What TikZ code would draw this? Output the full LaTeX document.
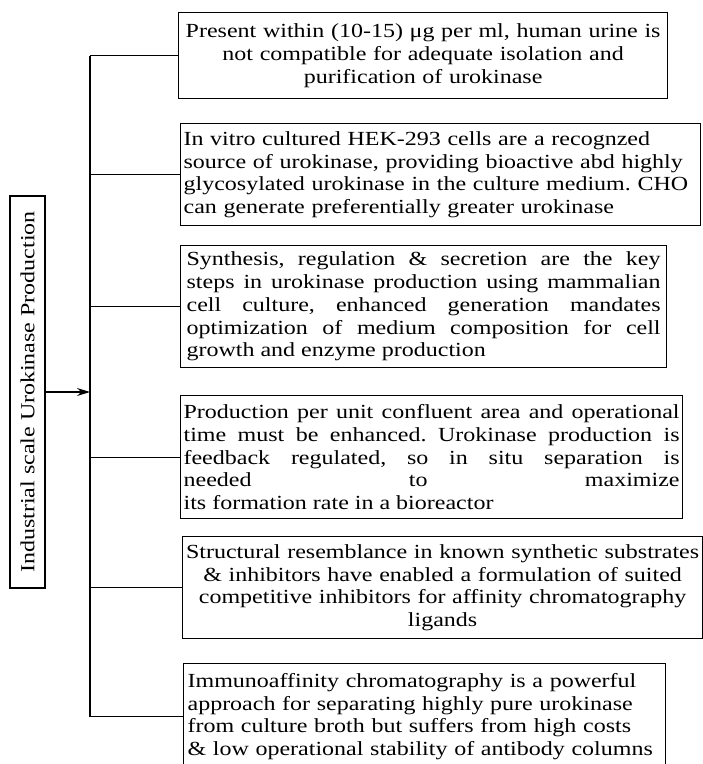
\documentclass[tikz,border=0pt]{standalone}
\usepackage{fontspec}
\setmainfont{Liberation Serif}[FakeStretch=1.2]
\frenchspacing
\usetikzlibrary{arrows.meta}
\tikzset{
  itembox/.style={draw, line width=1.2pt, anchor=north west, inner xsep=4pt, inner ysep=0pt,
    font=\fontsize{20}{22.7}\selectfont},
  titlebox/.style={draw, line width=1.2pt, rotate=90, minimum width=392pt, minimum height=35pt,
    inner sep=0pt, font=\fontsize{20}{22.7}\selectfont},
  branch/.style={line width=1.2pt},
}
\begin{document}
\begin{tikzpicture}[x=1pt, y=-1pt]
        \useasboundingbox (0,0) rectangle (703,764);

        % Title
        \node[titlebox] (title) at (27.5,392) {Industrial scale Urokinase Production};

        % Boxes
        \node[itembox, text width=481pt, align=center, minimum height=86pt] (b1) at (178,12)
            {Present within (10-15) μg per ml, human urine is\\ not compatible for adequate isolation and\\ purification of urokinase};
        \node[itembox, text width=514pt, align=left, minimum height=102pt, inner xsep=3pt] (b2) at (180,123)
            {In vitro cultured HEK-293 cells are a recognzed\\ source of urokinase, providing bioactive abd highly\\ glycosylated urokinase in the culture medium. CHO\\ can generate preferentially greater urokinase};
        \node[itembox, text width=474pt, align=justify, minimum height=122pt, inner xsep=6pt] (b3) at (180,245)
            {Synthesis, regulation \& secretion are the key\linebreak steps in urokinase production using mammalian\linebreak cell culture, enhanced generation mandates\linebreak optimization of medium composition for cell\linebreak growth and enzyme production};
        \node[itembox, text width=496pt, align=justify, minimum height=123pt, inner xsep=3pt] (b4) at (180,395)
            {Production per unit confluent area and operational\linebreak time must be enhanced. Urokinase production is\linebreak feedback regulated, so in situ separation is\linebreak needed to maximize\linebreak its formation rate in a bioreactor};
        \node[itembox, text width=519pt, align=center, minimum height=102pt, inner xsep=0.5pt] (b5) at (182,536)
            {Structural resemblance in known synthetic substrates\\ \& inhibitors have enabled a formulation of suited\\ competitive inhibitors for affinity chromatography\\ ligands};
        \node[itembox, text width=474pt, align=left, minimum height=106pt] (b6) at (183,663)
            {Immunoaffinity chromatography is a powerful\\ approach for separating highly pure urokinase\\ from culture broth but suffers from high costs\\ \& low operational stability of antibody columns};

        % Tree
        \coordinate (trunk) at (90,0);
        \draw[branch] (b1.west -| trunk) -- (b6.west -| trunk);
        \foreach \b in {b1,b2,b3,b4,b5,b6}
            \draw[branch] (\b.west) -- (\b.west -| trunk);
        \draw[branch, -{Stealth[length=13pt, width=8pt]}] (title.south) -- (title.south -| trunk);
\end{tikzpicture}
\end{document}
